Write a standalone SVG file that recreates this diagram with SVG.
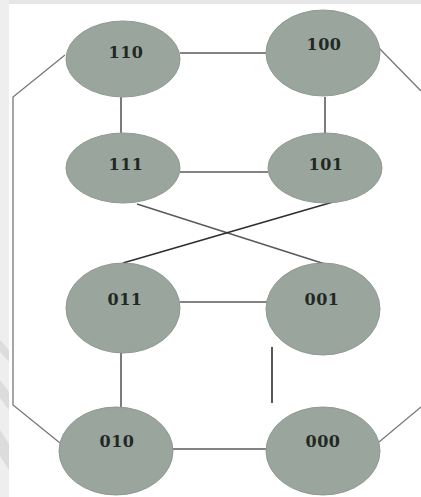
<svg xmlns="http://www.w3.org/2000/svg" width="421" height="497" viewBox="0 0 421 497">
  <style>
    .node ellipse { fill: #9aa69d; stroke: #8e9a91; stroke-width: 1; }
    .node text { font-family: "DejaVu Serif", "Liberation Serif", serif; font-weight: bold; font-size: 16px; letter-spacing: 0.5px; fill: #222823; text-anchor: middle; }
    .edge { stroke: #5a5a5a; stroke-width: 1.6; fill: none; }
    .edge.dark { stroke: #2e2e2e; }
    .edge.light { stroke: #777; stroke-width: 1.3; }
  </style>

  <!-- page background with pale margin strips -->
  <rect x="0" y="0" width="421" height="497" fill="#ffffff"/>
  <rect x="0" y="0" width="421" height="4" fill="#e6e6e6"/>
  <rect x="0" y="0" width="9" height="497" fill="#eeeeee"/>
  <g fill="#dcdcdc">
    <polygon points="0,340 9,350 9,362 0,352"/>
    <polygon points="0,380 9,392 9,410 0,398"/>
    <polygon points="0,430 9,444 9,470 0,456"/>
  </g>

  <g id="connectors">
    <!-- square faces -->
    <line class="edge" x1="180" y1="53" x2="266" y2="53"/>
    <line class="edge" x1="121" y1="97" x2="121" y2="133"/>
    <line class="edge" x1="325" y1="97" x2="325" y2="133"/>
    <line class="edge" x1="180" y1="172" x2="268" y2="172"/>
    <line class="edge" x1="180" y1="302" x2="267" y2="302"/>
    <line class="edge" x1="121" y1="353" x2="121" y2="407"/>
    <line class="edge" x1="173" y1="449" x2="267" y2="449"/>
    <line class="edge dark" x1="272" y1="347" x2="272" y2="403"/>
    <!-- crossing links -->
    <line class="edge" x1="137" y1="204" x2="328" y2="265"/>
    <line class="edge dark" x1="333" y1="202" x2="123" y2="263"/>
    <!-- outer links -->
    <polyline class="edge light" points="65,55 13,97 13,405 60,443"/>
    <line class="edge light" x1="378" y1="47" x2="421" y2="91"/>
    <line class="edge light" x1="379" y1="442" x2="421" y2="407"/>
  </g>

  <g id="n110" class="node">
    <ellipse cx="123" cy="59" rx="57" ry="38"/>
    <text x="126" y="58">110</text>
  </g>
  <g id="n100" class="node">
    <ellipse cx="323" cy="53" rx="57" ry="43"/>
    <text x="324" y="50">100</text>
  </g>
  <g id="n111" class="node">
    <ellipse cx="123" cy="168" rx="57" ry="35"/>
    <text x="126" y="170">111</text>
  </g>
  <g id="n101" class="node">
    <ellipse cx="325" cy="168" rx="57" ry="35"/>
    <text x="326" y="170">101</text>
  </g>
  <g id="n011" class="node">
    <ellipse cx="123" cy="308" rx="57" ry="45"/>
    <text x="125" y="305">011</text>
  </g>
  <g id="n001" class="node">
    <ellipse cx="323" cy="309" rx="57" ry="46"/>
    <text x="322" y="305">001</text>
  </g>
  <g id="n010" class="node">
    <ellipse cx="116" cy="451" rx="57" ry="44"/>
    <text x="117" y="447">010</text>
  </g>
  <g id="n000" class="node">
    <ellipse cx="323" cy="451" rx="57" ry="44"/>
    <text x="323" y="447">000</text>
  </g>
</svg>
